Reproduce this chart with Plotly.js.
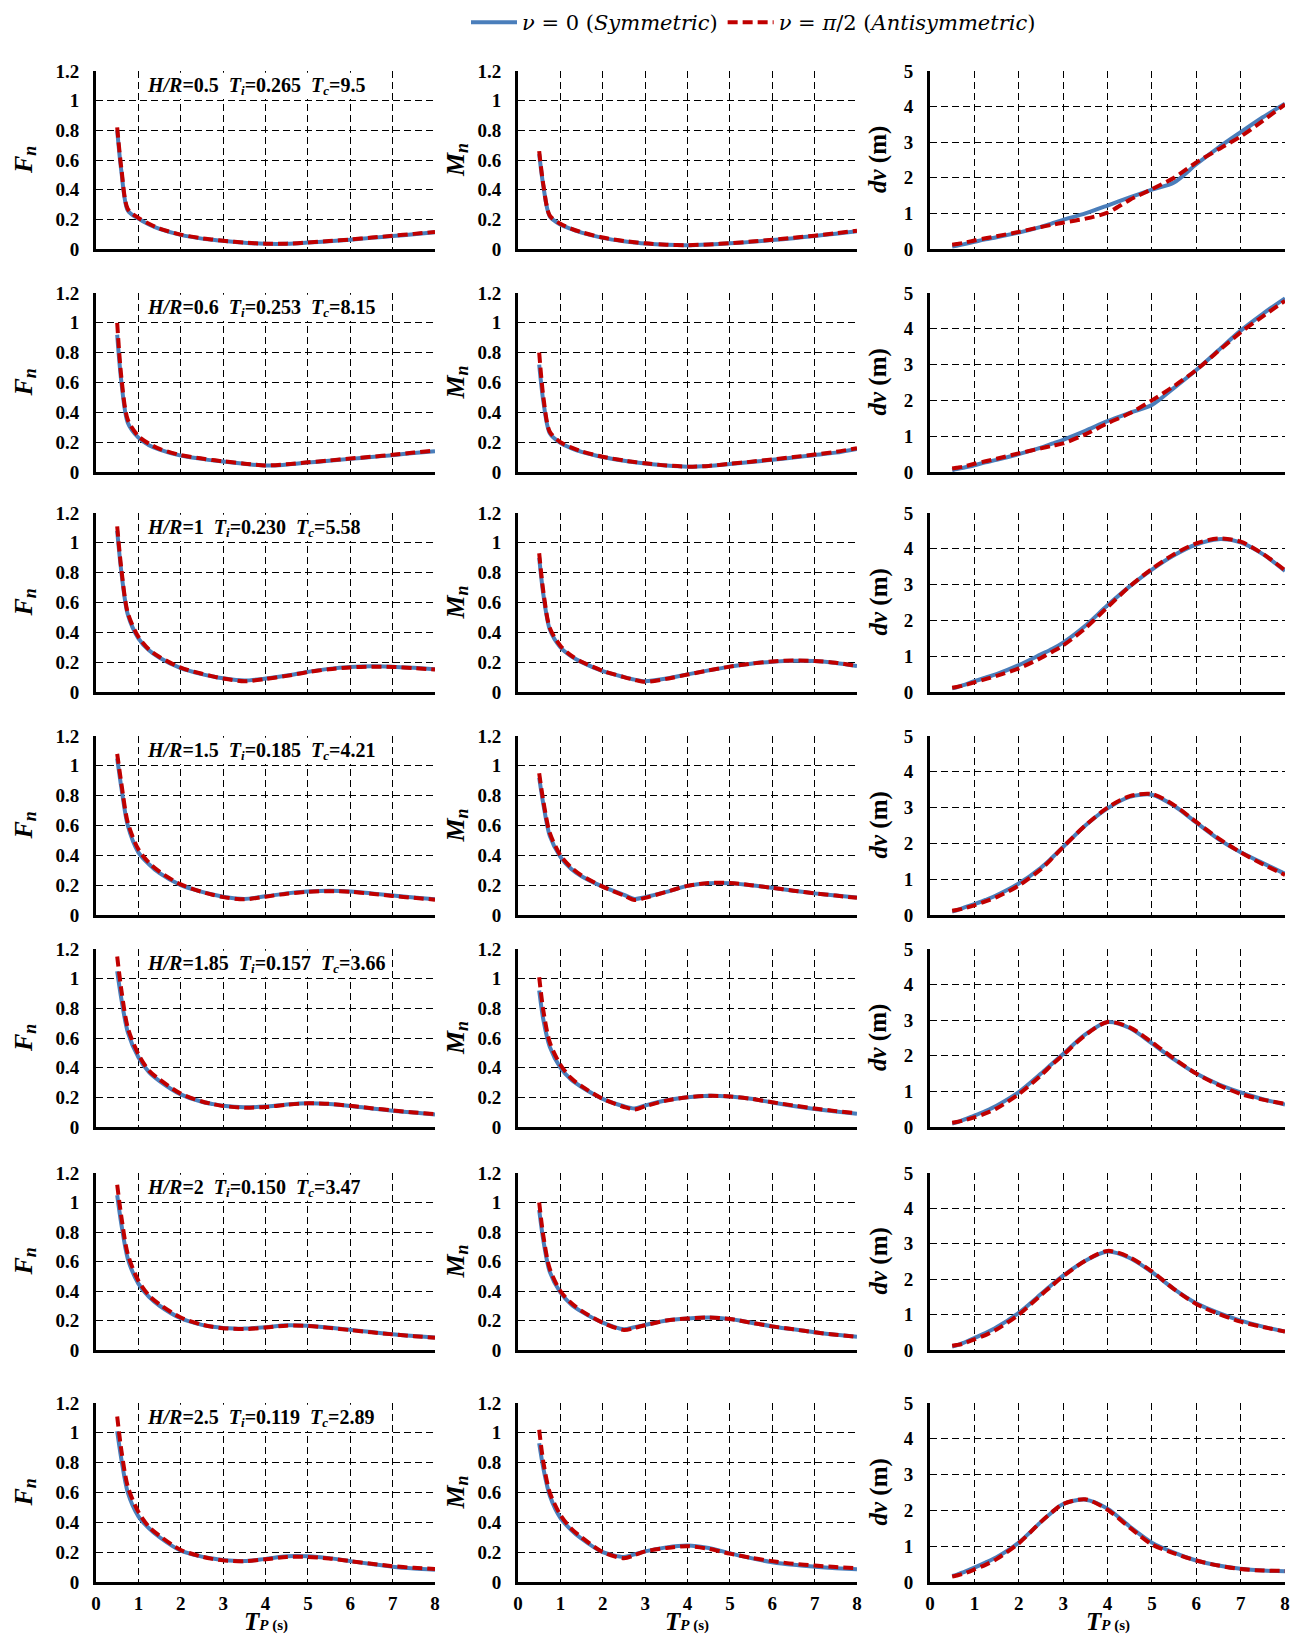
<!DOCTYPE html>
<html><head><meta charset="utf-8">
<script src="https://cdn.plot.ly/plotly-3.0.1.min.js"></script>
<style>html,body{margin:0;padding:0;background:#fff}</style>
</head><body>
<div id="chart" style="width:1290px;height:1636px"></div>
<script>
// ---------- DATA ----------
const Tp = [0.5,0.6,0.75,1,1.25,1.5,2,2.5,2.75,3,3.5,4,4.5,5,5.5,6,6.5,7,7.5,8];
const xTicks = [0,1,2,3,4,5,6,7,8];
const HR = ['0.5','0.6','1','1.5','1.85','2','2.5'];
const Ti = ['0.265','0.253','0.230','0.185','0.157','0.150','0.119'];
const Tc = ['9.5','8.15','5.58','4.21','3.66','3.47','2.89'];
const seriesNames = ['<i>ν</i> = 0 (<i>Symmetric</i>)', '<i>ν</i> = <i>π</i>/2 (<i>Antisymmetric</i>)'];

const FnSym = [
 [0.80,0.52,0.26,0.205,0.165,0.135,0.095,0.07,0.062,0.055,0.042,0.035,0.035,0.043,0.053,0.063,0.075,0.087,0.1,0.113],
 [0.92,0.6,0.33,0.23,0.18,0.15,0.11,0.088,0.078,0.07,0.055,0.043,0.05,0.063,0.075,0.088,0.1,0.113,0.127,0.14],
 [1.08,0.8,0.52,0.36,0.28,0.23,0.16,0.12,0.105,0.092,0.077,0.09,0.11,0.135,0.155,0.167,0.172,0.17,0.162,0.152],
 [1.05,0.85,0.6,0.42,0.34,0.28,0.2,0.155,0.137,0.123,0.108,0.125,0.145,0.157,0.162,0.158,0.145,0.13,0.117,0.105],
 [1.05,0.86,0.64,0.47,0.37,0.31,0.22,0.17,0.155,0.143,0.133,0.138,0.152,0.16,0.155,0.142,0.125,0.11,0.097,0.085],
 [1.05,0.85,0.62,0.45,0.36,0.3,0.215,0.17,0.157,0.15,0.145,0.155,0.168,0.165,0.152,0.137,0.122,0.107,0.095,0.085],
 [1.01,0.82,0.6,0.44,0.36,0.3,0.21,0.17,0.157,0.147,0.14,0.155,0.172,0.172,0.16,0.14,0.12,0.102,0.09,0.082]
];
const FnAnti = [
 [0.82,0.54,0.27,0.21,0.17,0.138,0.097,0.072,0.064,0.056,0.043,0.036,0.036,0.044,0.054,0.064,0.077,0.089,0.102,0.115],
 [1.0,0.63,0.35,0.24,0.19,0.155,0.113,0.09,0.08,0.072,0.056,0.044,0.052,0.065,0.077,0.09,0.102,0.115,0.13,0.143],
 [1.11,0.82,0.53,0.37,0.285,0.235,0.163,0.122,0.105,0.09,0.072,0.087,0.108,0.133,0.153,0.165,0.17,0.168,0.16,0.15],
 [1.08,0.88,0.62,0.44,0.35,0.29,0.205,0.155,0.136,0.12,0.105,0.123,0.143,0.155,0.16,0.156,0.143,0.128,0.115,0.103],
 [1.15,0.92,0.67,0.49,0.38,0.32,0.225,0.172,0.155,0.142,0.13,0.135,0.15,0.16,0.156,0.143,0.127,0.112,0.098,0.086],
 [1.12,0.9,0.65,0.47,0.37,0.31,0.22,0.172,0.157,0.148,0.142,0.152,0.165,0.163,0.15,0.135,0.12,0.106,0.094,0.083],
 [1.11,0.88,0.64,0.47,0.37,0.31,0.215,0.17,0.155,0.145,0.14,0.152,0.168,0.168,0.158,0.14,0.122,0.106,0.095,0.087]
];
const MnSym = [
 [0.64,0.42,0.22,0.165,0.135,0.11,0.075,0.052,0.044,0.037,0.028,0.025,0.03,0.038,0.048,0.06,0.073,0.088,0.103,0.12],
 [0.72,0.47,0.26,0.195,0.16,0.135,0.1,0.075,0.065,0.057,0.043,0.035,0.04,0.053,0.067,0.082,0.097,0.113,0.13,0.155],
 [0.9,0.65,0.42,0.3,0.24,0.2,0.14,0.1,0.083,0.072,0.09,0.118,0.145,0.17,0.19,0.203,0.21,0.207,0.195,0.175],
 [0.92,0.74,0.53,0.39,0.31,0.26,0.19,0.135,0.108,0.12,0.155,0.195,0.213,0.213,0.2,0.182,0.163,0.145,0.13,0.117],
 [0.92,0.72,0.54,0.4,0.32,0.27,0.19,0.14,0.125,0.145,0.18,0.2,0.21,0.205,0.19,0.165,0.142,0.122,0.105,0.09],
 [0.95,0.74,0.53,0.39,0.31,0.26,0.185,0.14,0.155,0.17,0.2,0.213,0.22,0.21,0.185,0.16,0.14,0.12,0.103,0.09],
 [0.93,0.76,0.58,0.43,0.35,0.29,0.2,0.168,0.185,0.205,0.232,0.245,0.228,0.193,0.16,0.133,0.115,0.103,0.093,0.085]
];
const MnAnti = [
 [0.66,0.43,0.225,0.17,0.138,0.113,0.077,0.054,0.046,0.038,0.029,0.026,0.031,0.039,0.05,0.062,0.076,0.09,0.106,0.123],
 [0.8,0.5,0.27,0.2,0.165,0.138,0.102,0.077,0.067,0.058,0.044,0.036,0.041,0.055,0.069,0.084,0.1,0.117,0.135,0.16],
 [0.93,0.67,0.43,0.31,0.245,0.203,0.142,0.1,0.082,0.068,0.088,0.117,0.145,0.17,0.19,0.205,0.212,0.208,0.196,0.175],
 [0.95,0.76,0.55,0.4,0.32,0.265,0.19,0.13,0.1,0.115,0.155,0.195,0.215,0.215,0.2,0.182,0.163,0.145,0.13,0.115],
 [1.01,0.78,0.57,0.42,0.33,0.275,0.19,0.135,0.118,0.14,0.178,0.2,0.21,0.206,0.19,0.167,0.145,0.125,0.107,0.092],
 [1.0,0.77,0.55,0.4,0.32,0.265,0.185,0.135,0.15,0.168,0.2,0.213,0.22,0.21,0.185,0.16,0.14,0.12,0.103,0.09],
 [1.02,0.8,0.6,0.45,0.36,0.3,0.2,0.16,0.18,0.205,0.228,0.24,0.222,0.19,0.162,0.14,0.122,0.11,0.1,0.093]
];
const dvSym = [
 [0.07,0.09,0.13,0.2,0.27,0.33,0.46,0.62,0.72,0.82,1.0,1.22,1.45,1.67,1.87,2.38,2.85,3.28,3.7,4.08],
 [0.05,0.08,0.12,0.19,0.27,0.34,0.5,0.68,0.79,0.9,1.15,1.42,1.65,1.87,2.35,2.85,3.4,3.95,4.42,4.85],
 [0.1,0.13,0.19,0.3,0.4,0.5,0.75,1.05,1.2,1.38,1.85,2.42,2.95,3.42,3.82,4.12,4.27,4.18,3.85,3.38],
 [0.1,0.13,0.2,0.3,0.42,0.55,0.88,1.32,1.6,1.9,2.5,2.98,3.3,3.36,3.05,2.58,2.12,1.75,1.45,1.15],
 [0.1,0.13,0.2,0.32,0.45,0.6,0.98,1.5,1.78,2.05,2.6,2.95,2.78,2.35,1.9,1.5,1.2,0.97,0.78,0.63],
 [0.1,0.13,0.2,0.34,0.48,0.64,1.05,1.58,1.85,2.1,2.52,2.78,2.6,2.2,1.72,1.32,1.05,0.83,0.66,0.52],
 [0.17,0.2,0.27,0.4,0.54,0.69,1.1,1.68,1.95,2.18,2.3,2.05,1.55,1.1,0.82,0.6,0.46,0.37,0.32,0.3]
];
const dvAnti = [
 [0.12,0.14,0.17,0.24,0.3,0.36,0.48,0.62,0.68,0.74,0.85,1.02,1.38,1.68,2.0,2.43,2.8,3.16,3.6,4.06],
 [0.1,0.12,0.15,0.23,0.3,0.37,0.52,0.66,0.73,0.8,1.05,1.36,1.64,2.0,2.4,2.85,3.38,3.9,4.35,4.78],
 [0.12,0.14,0.18,0.27,0.36,0.45,0.66,0.95,1.12,1.3,1.78,2.37,2.95,3.44,3.85,4.15,4.29,4.2,3.86,3.4],
 [0.12,0.14,0.18,0.27,0.38,0.5,0.82,1.28,1.58,1.9,2.5,3.0,3.32,3.38,3.07,2.6,2.14,1.75,1.42,1.12],
 [0.12,0.14,0.18,0.27,0.38,0.52,0.92,1.45,1.75,2.02,2.58,2.95,2.8,2.38,1.92,1.5,1.18,0.93,0.77,0.65],
 [0.12,0.14,0.18,0.3,0.42,0.58,1.0,1.55,1.82,2.08,2.52,2.8,2.62,2.22,1.72,1.3,1.02,0.8,0.65,0.52],
 [0.15,0.18,0.23,0.35,0.48,0.64,1.08,1.68,1.95,2.18,2.31,2.02,1.52,1.05,0.8,0.6,0.46,0.36,0.32,0.31]
];

// ---------- LAYOUT GEOMETRY (px) ----------
const W = 1290, H = 1636;
const rowTop = [71,293,513,736,949,1173,1403];
const rowBot = [249,472,692,915,1127,1350,1582];
const colL = [96,518,930];
const colR = [435,857,1285];
const yTitleX = [24,456,878];
const colors = ['#4a7ebb', '#c00000'];
const serif = 'Liberation Serif, Times New Roman, serif';

const panels = [[FnSym, FnAnti], [MnSym, MnAnti], [dvSym, dvAnti]];
const yMax = [1.2, 1.2, 5];
const yDtick = [0.2, 0.2, 1];
const subN = '<span style="font-size:18px;baseline-shift:-4px">n</span>';
const yTitles = ['<i>F' + subN + '</i>', '<i>M' + subN + '</i>', '<i>dv</i> (m)'];
const subTxt = s => '<span style="font-size:13px;baseline-shift:-3px">' + s + '</span>';

const traces = [];
const layout = {
  width: W, height: H,
  margin: {l:0, r:0, t:0, b:0},
  paper_bgcolor: '#fff', plot_bgcolor: '#fff',
  showlegend: true,
  legend: {
    orientation: 'h', x: 466/W, xanchor: 'left', y: 1 - 2/H, yanchor: 'top',
    font: {family: 'DejaVu Serif, serif', size: 21, color: '#000'},
    bgcolor: 'rgba(0,0,0,0)', itemwidth: 46, tracegroupgap: 0
  },
  annotations: [], shapes: []
};

const tickFont = {family: serif, size: 19, color: '#000', weight: 'bold'};

for (let r = 0; r < 7; r++) {
  for (let c = 0; c < 3; c++) {
    const k = r*3 + c + 1;
    const xs = k === 1 ? '' : String(k);
    const yd = [1 - rowBot[r]/H, 1 - rowTop[r]/H];
    layout['xaxis' + xs] = {
      domain: [colL[c]/W, colR[c]/W], anchor: 'y' + xs,
      range: [0, 8], tickmode: 'array', tickvals: xTicks, ticktext: xTicks.map(String),
      showgrid: true, gridcolor: '#000', gridwidth: 1, griddash: '7px,4px',
      showline: true, linecolor: '#000', linewidth: 3, zeroline: false,
      ticks: '', showticklabels: r === 6, tickfont: tickFont, ticklabelstandoff: 2,
      fixedrange: true
    };
    const yt = [];
    for (let v = 0; v <= yMax[c] + 1e-9; v += yDtick[c]) yt.push(Math.round(v*10)/10);
    layout['yaxis' + xs] = {
      domain: yd, anchor: 'x' + xs,
      range: [0, yMax[c]], tickmode: 'array', tickvals: yt, ticktext: yt.map(String),
      showgrid: true, gridcolor: '#000', gridwidth: 1, griddash: '7px,4px',
      showline: true, linecolor: '#000', linewidth: 3, zeroline: false,
      ticks: '', tickfont: tickFont, ticklabelstandoff: 10, fixedrange: true
    };
    for (let s = 0; s < 2; s++) {
      traces.push({
        type: 'scatter', mode: 'lines',
        x: Tp, y: panels[c][s][r],
        xaxis: 'x' + xs, yaxis: 'y' + xs,
        name: seriesNames[s], legendgroup: 'g' + s, showlegend: k === 1,
        line: {color: colors[s], width: 4, dash: s ? '10px,5px' : 'solid', shape: 'spline', smoothing: 0.8},
        hoverinfo: 'skip'
      });
    }
    // y-axis title
    layout.annotations.push({
      xref: 'paper', yref: 'paper', x: yTitleX[c]/W, y: 1 - (rowTop[r] + rowBot[r]) / 2 / H,
      text: yTitles[c], textangle: -90, showarrow: false, xanchor: 'center', yanchor: 'middle',
      font: {family: serif, size: c === 2 ? 25 : 26, color: '#000', weight: 'bold'}
    });
    if (r === 6) {
      layout.annotations.push({
        xref: 'paper', yref: 'paper', x: (colL[c] + colR[c]) / 2 / W, y: 1 - 1636/H,
        text: '<i>T</i><span style="font-size:15px"><i>P</i> (s)</span>', showarrow: false,
        xanchor: 'center', yanchor: 'bottom', borderpad: 0,
        font: {family: serif, size: 25, color: '#000', weight: 'bold'}
      });
    }
  }
  // parameter box in first column
  const k1 = r*3 + 1;
  const s1 = k1 === 1 ? '' : String(k1);
  layout.shapes.push({
    type: 'rect', xref: 'x' + s1, yref: 'y' + s1, x0: 1.04, x1: 6.96, y0: 1.012, y1: 1.188,
    fillcolor: '#fff', line: {width: 0}, layer: 'above'
  });
  layout.annotations.push({
    xref: 'x' + s1, yref: 'y' + s1, x: 1.15, y: 1.1, xanchor: 'left', yanchor: 'middle', showarrow: false,
    text: '<i>H/R</i>=' + HR[r] + '\u00a0\u00a0<i>T' + subTxt('i') + '</i>=' + Ti[r] + '\u00a0\u00a0<i>T' + subTxt('c') + '</i>=' + Tc[r],
    font: {family: serif, size: 20, color: '#000', weight: 'bold'}
  });
}

Plotly.newPlot('chart', traces, layout, {staticPlot: true, displayModeBar: false});
</script>
</body></html>
